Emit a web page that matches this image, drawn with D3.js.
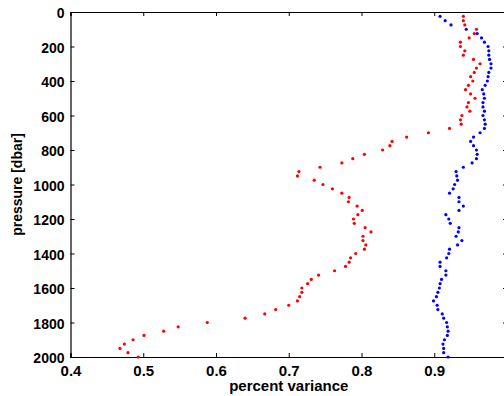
<!DOCTYPE html>
<html>
<head>
<meta charset="utf-8">
<script src="https://cdn.jsdelivr.net/npm/d3@7"></script>
<style>
  html, body { margin: 0; padding: 0; background: #fff; }
  svg { display: block; }
  text { font-family: "Liberation Sans", Arial, Helvetica, sans-serif; font-weight: bold; fill: #000; }
</style>
</head>
<body>
<svg id="chart" width="504" height="396"></svg>
<script>
// Pressure levels (dbar)
const pressure = [
  25, 50, 75, 100, 125, 150, 175, 200, 225, 250,
  275, 300, 325, 350, 375, 400, 425, 450, 475, 500,
  525, 550, 575, 600, 625, 650, 675, 700, 725, 750,
  775, 800, 825, 850, 875, 900, 925, 950, 975, 1000,
  1025, 1050, 1075, 1100, 1125, 1150, 1175, 1200, 1225, 1250,
  1275, 1300, 1325, 1350, 1375, 1400, 1425, 1450, 1475, 1500,
  1525, 1550, 1575, 1600, 1625, 1650, 1675, 1700, 1725, 1750,
  1775, 1800, 1825, 1850, 1875, 1900, 1925, 1950, 1975, 2000
];

// Percent variance explained, red profile
const redVariance = [
  0.940, 0.940, 0.942, 0.958, 0.955, 0.948, 0.936, 0.936, 0.942, 0.940,
  0.954, 0.963, 0.958, 0.955, 0.950, 0.953, 0.947, 0.943, 0.950, 0.956,
  0.947, 0.945, 0.949, 0.938, 0.936, 0.937, 0.921, 0.892, 0.862, 0.842,
  0.839, 0.829, 0.804, 0.788, 0.773, 0.743, 0.714, 0.712, 0.735, 0.747,
  0.760, 0.773, 0.783, 0.782, 0.794, 0.801, 0.795, 0.789, 0.790, 0.805,
  0.813, 0.802, 0.802, 0.806, 0.804, 0.792, 0.785, 0.783, 0.778, 0.763,
  0.741, 0.731, 0.726, 0.718, 0.718, 0.715, 0.712, 0.700, 0.682, 0.667,
  0.640, 0.588, 0.548, 0.528, 0.501, 0.486, 0.474, 0.468, 0.479, 0.493
];

// Percent variance explained, blue profile
const blueVariance = [
  0.908, 0.915, 0.923, 0.944, 0.959, 0.965, 0.969, 0.974, 0.975, 0.975,
  0.976, 0.978, 0.978, 0.975, 0.974, 0.973, 0.970, 0.966, 0.968, 0.969,
  0.967, 0.967, 0.969, 0.967, 0.969, 0.970, 0.969, 0.963, 0.954, 0.950,
  0.954, 0.958, 0.959, 0.958, 0.952, 0.940, 0.930, 0.931, 0.932, 0.928,
  0.926, 0.921, 0.934, 0.934, 0.940, 0.934, 0.916, 0.920, 0.922, 0.934,
  0.933, 0.930, 0.938, 0.932, 0.921, 0.920, 0.917, 0.908, 0.908, 0.916,
  0.916, 0.910, 0.908, 0.907, 0.905, 0.903, 0.899, 0.904, 0.905, 0.911,
  0.913, 0.917, 0.918, 0.919, 0.918, 0.914, 0.912, 0.913, 0.913, 0.919
];

// Labelled x ticks, and the y ticks used on both vertical sides
const xTicks = [0.4, 0.5, 0.6, 0.7, 0.8, 0.9];
const yTicks = [0, 200, 400, 600, 800, 1000, 1200, 1400, 1600, 1800, 2000];

const svg = d3.select("#chart");

// Plot box; the right edge of the axes sits just past the window edge
const plot = { left: 70.5, right: 507, top: 12, bottom: 357 };

const x = d3.scaleLinear().domain([0.4, 1.0]).range([plot.left, plot.right]);
const y = d3.scaleLinear().domain([0, 2000]).range([plot.top, plot.bottom]);

const tickLen = 4;

// Bottom axis: labels below, ticks pointing inward
const bottom = svg.append("g")
  .attr("transform", `translate(0,${plot.bottom})`)
  .call(d3.axisBottom(x).tickValues(xTicks).tickSize(-tickLen).tickPadding(8)
    .tickFormat(d3.format(".1f")));
bottom.selectAll("text").style("font-size", "15px").attr("dy", "0.71em");

// Left axis
const left = svg.append("g")
  .attr("transform", `translate(${plot.left},0)`)
  .call(d3.axisLeft(y).tickValues(yTicks).tickSize(-tickLen).tickPadding(6)
    .tickFormat(d3.format("d")));
left.selectAll("text").style("font-size", "14px").attr("dy", "0.4em");

// Top and right axes: ticks only
svg.append("g")
  .attr("transform", `translate(0,${plot.top})`)
  .call(d3.axisTop(x).tickValues(xTicks).tickSize(-tickLen).tickFormat(""));
svg.append("g")
  .attr("transform", `translate(${plot.right},0)`)
  .call(d3.axisRight(y).tickValues(yTicks).tickSize(-tickLen).tickFormat(""));

svg.selectAll(".domain").attr("stroke", "#000").attr("stroke-width", 1.2);
svg.selectAll(".tick line").attr("stroke", "#000").attr("stroke-width", 1);

// Data markers
const points = (values, color) => {
  svg.append("g")
    .selectAll("circle")
    .data(values)
    .join("circle")
    .attr("cx", d => x(d))
    .attr("cy", (d, i) => y(pressure[i]))
    .attr("r", 1.6)
    .attr("fill", color);
};
points(redVariance, "#ff0000");
points(blueVariance, "#0000ff");

// Axis titles
svg.append("text")
  .attr("x", (plot.left + plot.right) / 2)
  .attr("y", 391)
  .attr("text-anchor", "middle")
  .style("font-size", "15px")
  .text("percent variance");

svg.append("text")
  .attr("transform", `translate(22,${(plot.top + plot.bottom) / 2}) rotate(-90)`)
  .attr("text-anchor", "middle")
  .style("font-size", "14px")
  .text("pressure [dbar]");
</script>
</body>
</html>
